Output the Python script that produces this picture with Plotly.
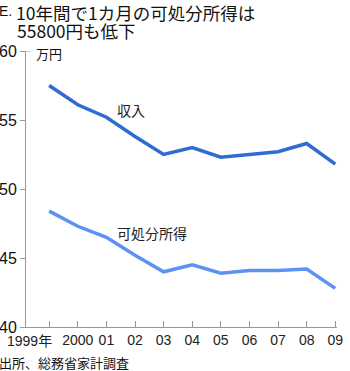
import plotly.graph_objects as go

years = [1999, 2000, 2001, 2002, 2003, 2004, 2005, 2006, 2007, 2008, 2009]
tick_labels = ["1999年", "2000", "01", "02", "03", "04", "05", "06", "07", "08", "09"]
income = [57.5, 56.1, 55.2, 53.8, 52.5, 53.0, 52.3, 52.5, 52.7, 53.3, 51.8]
disposable = [48.4, 47.3, 46.5, 45.2, 44.0, 44.5, 43.9, 44.1, 44.1, 44.2, 42.8]

FONT = "Noto Sans CJK JP"
NUM = "Liberation Sans, Noto Sans CJK JP"

fig = go.Figure()
fig.add_trace(go.Scatter(x=years, y=income, mode="lines",
                         line=dict(color="#2f6cd2", width=3.5), name="収入"))
fig.add_trace(go.Scatter(x=years, y=disposable, mode="lines",
                         line=dict(color="#5b92f4", width=3.5), name="可処分所得"))

# first label is placed separately (it sits left of its tick in the original)
shown_ticks = [""] + tick_labels[1:]

fig.update_layout(
    width=350, height=371,
    margin=dict(l=26, r=13, t=51, b=44),
    paper_bgcolor="white", plot_bgcolor="white",
    showlegend=False,
    font=dict(family=FONT, color="#222"),
    xaxis=dict(range=[1998.19, 2009.06], tickvals=years, ticktext=shown_ticks,
               tickangle=0, automargin=False,
               showgrid=False, zeroline=False, showline=True, linecolor="#999",
               linewidth=1, ticks="inside", ticklen=6, tickcolor="#999",
               tickfont=dict(size=14, family=NUM, color="#222"), fixedrange=True),
    yaxis=dict(range=[40, 60], tickvals=[40, 45, 50, 55, 60], automargin=False,
               showgrid=False, zeroline=False, showline=True, linecolor="#999",
               linewidth=1, ticks="outside", ticklen=5, tickcolor="#999",
               tickfont=dict(size=16, family="Liberation Sans", color="#111"), fixedrange=True),
)

fig.add_annotation(x=years[0], y=0, xref="x", yref="paper", xanchor="right", yanchor="top",
                   xshift=5, yshift=-4, text=tick_labels[0], showarrow=False,
                   font=dict(size=14, family=NUM, color="#222"))

def fig_text(text, px, py, size, family=FONT):
    fig.add_annotation(x=(px - 26) / 311, y=(371 - 44 - py) / 276, xref="paper", yref="paper",
                       xanchor="left", yanchor="middle", text=text, showarrow=False,
                       borderpad=0, font=dict(size=size, family=family, color="#111"))

fig_text("E.", -2, 11, 14, NUM)
fig_text("10年間で1カ月の可処分所得は", 15, 12, 17.5)
fig_text("55800円も低下", 16, 30, 17.5)
fig_text("万円", 35, 53, 13)
fig_text("出所、総務省家計調査", -2, 362, 13)

fig.add_annotation(x=2001.3, y=55.7, xref="x", yref="y", xanchor="left", yanchor="middle",
                   text="収入", showarrow=False, font=dict(size=14, family=FONT, color="#222"))
fig.add_annotation(x=2001.3, y=46.8, xref="x", yref="y", xanchor="left", yanchor="middle",
                   text="可処分所得", showarrow=False, font=dict(size=14, family=FONT, color="#222"))
# small top tick to the right of the y axis
fig.add_shape(type="line", xref="paper", yref="y", x0=0, x1=0.015, y0=60, y1=60,
              line=dict(color="#999", width=1))

fig.write_html("out.html")
